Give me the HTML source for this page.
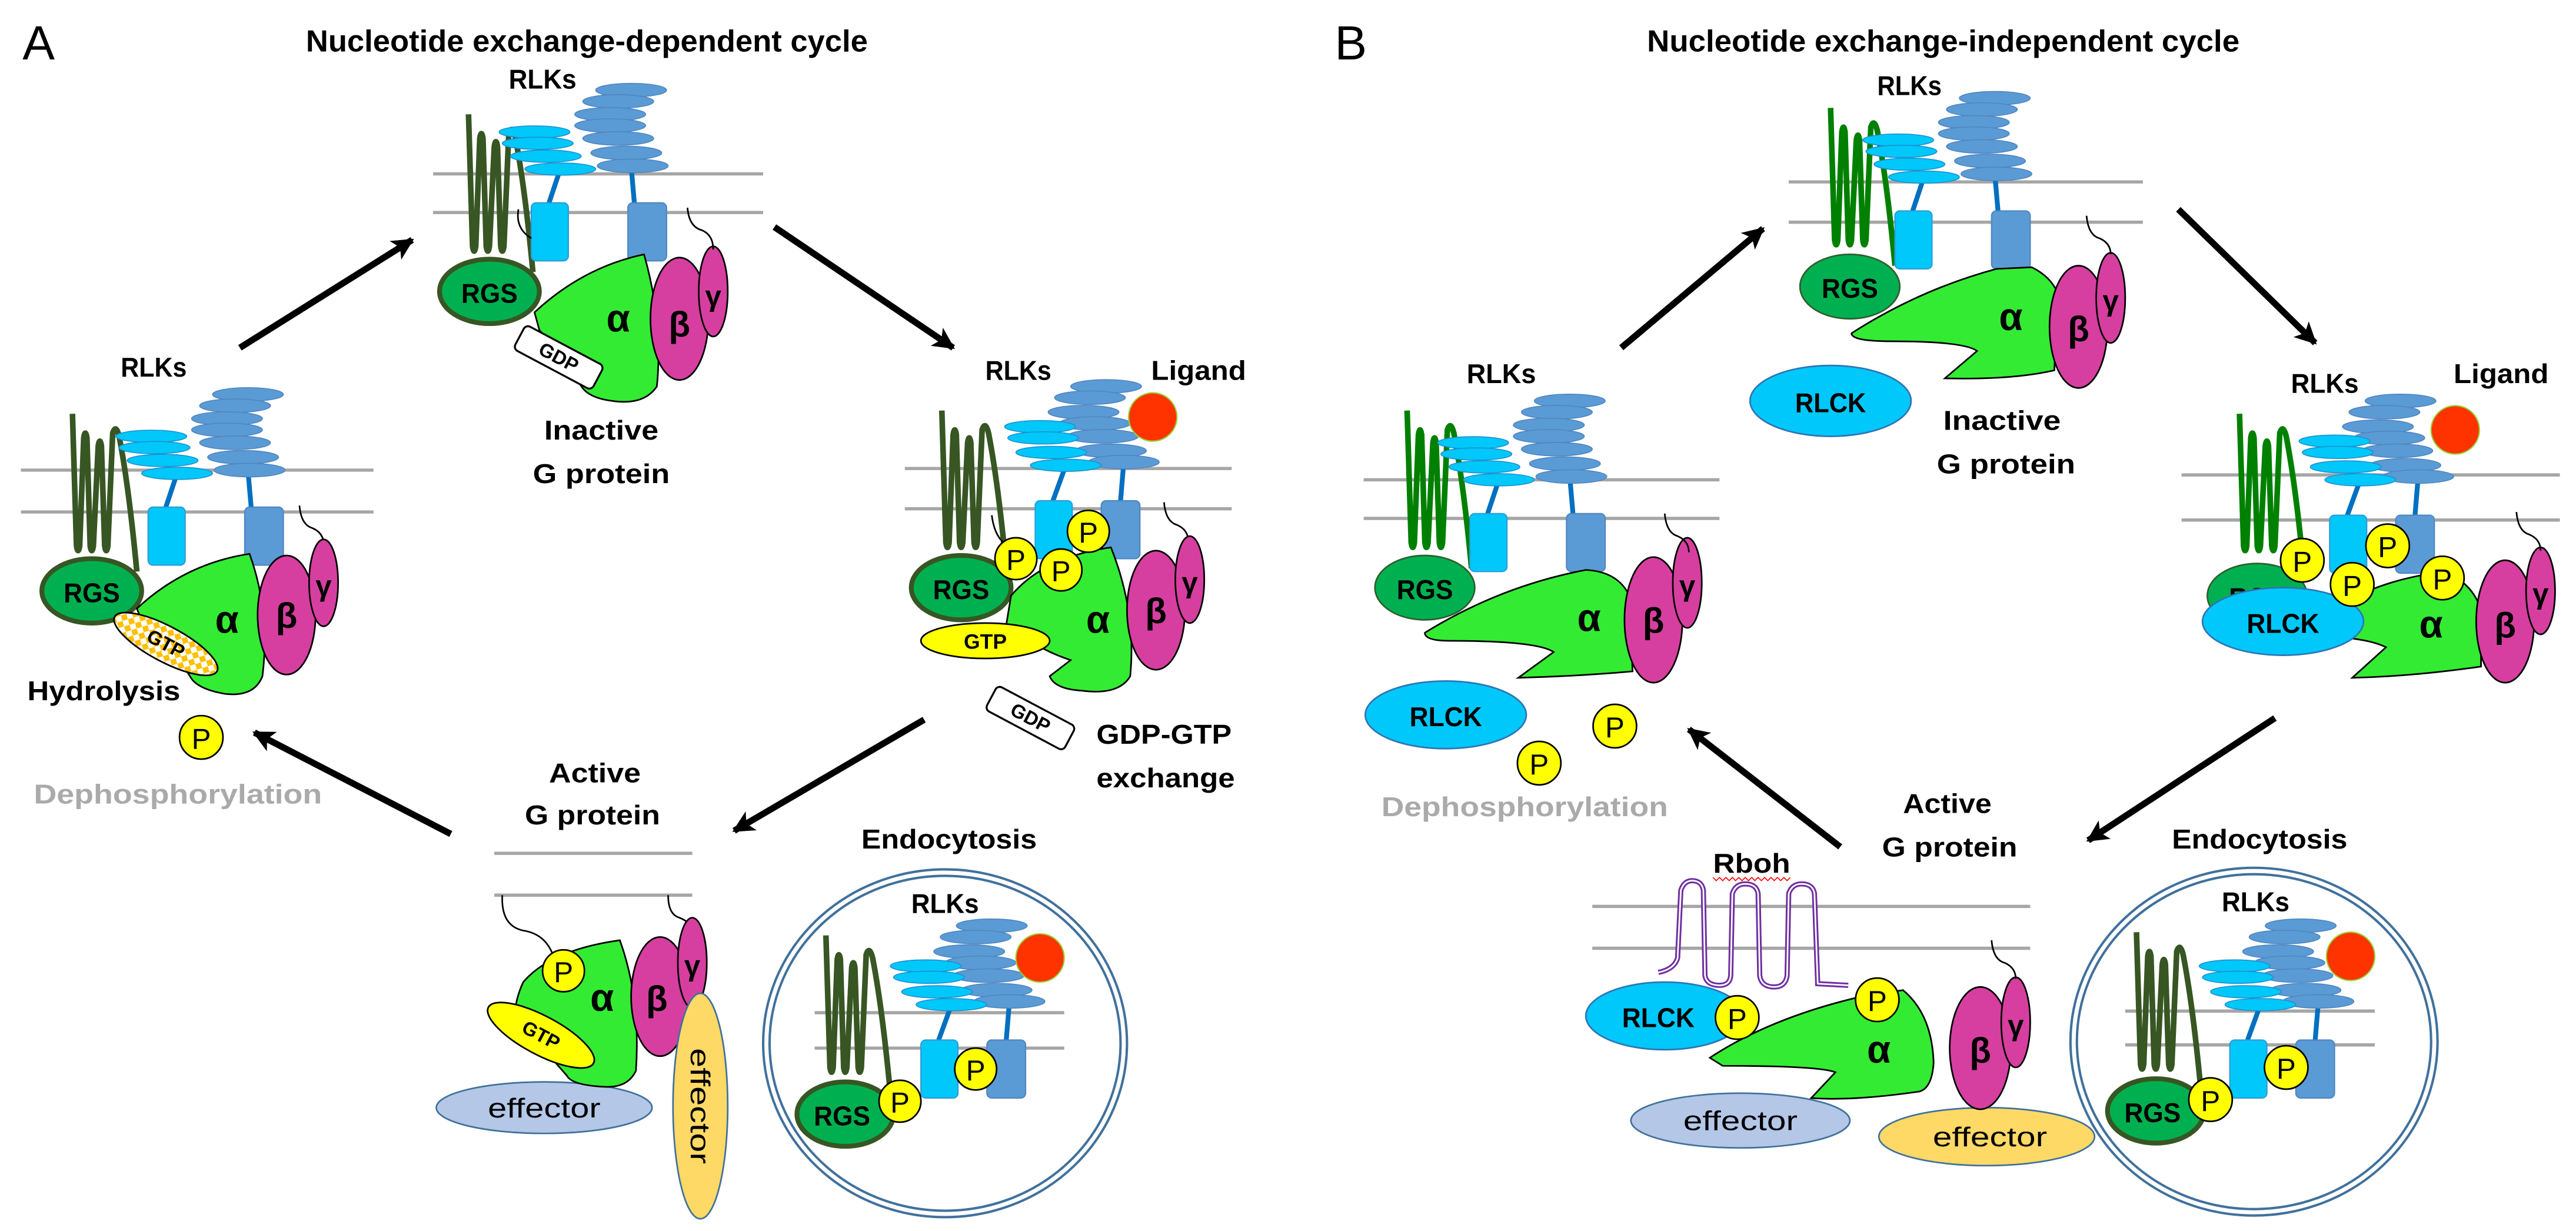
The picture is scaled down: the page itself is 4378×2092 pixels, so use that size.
<!DOCTYPE html>
<html><head><meta charset="utf-8"><style>
html,body{margin:0;padding:0;background:#fff;}
svg{display:block;}
text{font-family:"Liberation Sans",sans-serif;}
.b{font-weight:bold;}
</style></head><body>
<svg xmlns="http://www.w3.org/2000/svg" width="4378" height="2092" viewBox="0 0 1600 764.6" preserveAspectRatio="none">
<defs>
<marker id="ah" viewBox="0 0 10 10" refX="9" refY="5" markerWidth="3.6" markerHeight="3.4" orient="auto" markerUnits="strokeWidth"><path d="M0,0 L10,5 L0,10 L2.5,5 Z" fill="#000"/></marker>
<pattern id="chk" width="5" height="5" patternUnits="userSpaceOnUse"><rect width="5" height="5" fill="#fff"/><path d="M2.5,0 L5,2.5 L2.5,5 L0,2.5Z" fill="#FFC000"/></pattern>
<path id="sq" d="M0,0 L2.5,82 Q3.5,88 4.5,82 L7,15 Q8,9 9,15 L11,82 Q12,88 13,82 L16,20 Q17,14 18,20 L20,82 Q21,88 22,82 L25,12 Q27,6 29,14 Q35,45 40,98" fill="none" stroke-width="3.5" stroke-linejoin="round"/>
<g id="rec">
<line x1="18" y1="-21" x2="11" y2="0" stroke="#0070C0" stroke-width="3"/>
<line x1="62" y1="-23" x2="64" y2="0" stroke="#0070C0" stroke-width="3"/>
<g fill="#5B9BD5" stroke="#4F86C0" stroke-width="0.6">
<ellipse cx="62" cy="-70" rx="22" ry="4.2"/><ellipse cx="54" cy="-63" rx="22" ry="4.2"/><ellipse cx="49" cy="-55" rx="22" ry="4.2"/><ellipse cx="49" cy="-48" rx="22" ry="4.2"/><ellipse cx="54" cy="-40" rx="22" ry="4.2"/><ellipse cx="59" cy="-31" rx="22" ry="4.2"/><ellipse cx="63" cy="-23" rx="22" ry="4.2"/>
</g>
<g fill="#00C8FA" stroke="#1E90D0" stroke-width="0.6">
<ellipse cx="2" cy="-44" rx="22" ry="3.8"/><ellipse cx="4" cy="-37" rx="22" ry="3.8"/><ellipse cx="9" cy="-29" rx="22" ry="3.8"/><ellipse cx="18" cy="-21" rx="22" ry="3.8"/>
</g>
<rect x="0" y="0" width="23" height="36" rx="3" fill="#00C8FA" stroke="#2E9BD8" stroke-width="0.8"/>
<rect x="60" y="0" width="24" height="36" rx="3" fill="#5B9BD5" stroke="#4F86C0" stroke-width="0.8"/>
</g>
<g id="recn">
<line x1="19" y1="-22" x2="11" y2="0" stroke="#0070C0" stroke-width="3"/>
<line x1="55" y1="-24" x2="53" y2="0" stroke="#0070C0" stroke-width="3"/>
<g fill="#5B9BD5" stroke="#4F86C0" stroke-width="0.6">
<ellipse cx="44" cy="-71" rx="22" ry="4.2"/><ellipse cx="34" cy="-64" rx="22" ry="4.2"/><ellipse cx="30" cy="-55" rx="22" ry="4.2"/><ellipse cx="37" cy="-48" rx="22" ry="4.2"/><ellipse cx="42" cy="-40" rx="22" ry="4.2"/><ellipse cx="47" cy="-31" rx="22" ry="4.2"/><ellipse cx="55" cy="-24" rx="22" ry="4.2"/>
</g>
<g fill="#00C8FA" stroke="#1E90D0" stroke-width="0.6">
<ellipse cx="3" cy="-46" rx="22" ry="3.8"/><ellipse cx="5" cy="-39" rx="22" ry="3.8"/><ellipse cx="10" cy="-30" rx="22" ry="3.8"/><ellipse cx="19" cy="-22" rx="22" ry="3.8"/>
</g>
<rect x="0" y="0" width="23" height="36" rx="3" fill="#00C8FA" stroke="#2E9BD8" stroke-width="0.8"/>
<rect x="41" y="0" width="24" height="36" rx="3" fill="#5B9BD5" stroke="#4F86C0" stroke-width="0.8"/>
</g>
</defs>
<rect width="1600" height="764.6" fill="#fff"/>

<!-- ================= PANEL A ================= -->
<text x="14" y="37" font-size="30">A</text>
<text x="190" y="32" font-size="19" class="b" textLength="349" lengthAdjust="spacingAndGlyphs">Nucleotide exchange-dependent cycle</text>

<g stroke="#000" stroke-width="4" marker-end="url(#ah)">
<line x1="149" y1="216" x2="256" y2="149"/>
<line x1="481" y1="141" x2="592" y2="216"/>
<line x1="574" y1="447" x2="456" y2="516"/>
<line x1="280" y1="518" x2="158" y2="455"/>
</g>

<!-- Top A -->
<g stroke="#A6A6A6" stroke-width="2"><line x1="269" y1="108" x2="474" y2="108"/><line x1="269" y1="132" x2="474" y2="132"/></g>
<use href="#sq" x="291" y="71" stroke="#375623"/>
<use href="#rec" x="330" y="126"/>
<path d="M322,130 Q320,142 330,148" fill="none" stroke="#000" stroke-width="1"/>
<ellipse cx="304" cy="181" rx="31" ry="20" fill="#00B050" stroke="#375623" stroke-width="3"/>
<path d="M332,194 Q362,166 400,158 Q412,200 408,240 Q400,252 380,249 Q364,247 360,238 L350,222 L335,205 Z" fill="#33EB33" stroke="#000" stroke-width="1"/>
<rect x="319.5" y="213.5" width="55" height="17" rx="3" transform="rotate(28 347 222)" fill="#fff" stroke="#000" stroke-width="1.2"/>
<text x="347" y="226" font-size="12" class="b" text-anchor="middle" transform="rotate(28 347 222)">GDP</text>
<ellipse cx="422" cy="198" rx="18" ry="38" fill="#D63FA0" stroke="#000" stroke-width="1"/>
<ellipse cx="443" cy="181" rx="9" ry="28" fill="#D63FA0" stroke="#000" stroke-width="1"/>
<path d="M427,129 Q428,141 436,143 Q443,146 443,155" fill="none" stroke="#000" stroke-width="1"/>
<text x="304" y="188" font-size="17" class="b" text-anchor="middle" textLength="35" lengthAdjust="spacingAndGlyphs">RGS</text>
<text x="384" y="206" font-size="24" class="b" text-anchor="middle">α</text>
<text x="422" y="209" font-size="22" class="b" text-anchor="middle">β</text>
<text x="443" y="190" font-size="18" class="b" text-anchor="middle">γ</text>
<text x="316" y="55" font-size="17" class="b" textLength="42" lengthAdjust="spacingAndGlyphs">RLKs</text>
<text x="338" y="273" font-size="17" class="b" textLength="71" lengthAdjust="spacingAndGlyphs">Inactive</text>
<text x="331" y="300" font-size="17" class="b" textLength="85" lengthAdjust="spacingAndGlyphs">G protein</text>

<!-- Left A -->
<g stroke="#A6A6A6" stroke-width="2"><line x1="13" y1="292" x2="232" y2="292"/><line x1="13" y1="318" x2="232" y2="318"/></g>
<use href="#sq" x="45" y="257" stroke="#375623"/>
<use href="#rec" x="92" y="315"/>
<path d="M186,314 Q187,326 194,328 Q201,331 201,338" fill="none" stroke="#000" stroke-width="1"/>
<ellipse cx="57" cy="367" rx="31" ry="20" fill="#00B050" stroke="#375623" stroke-width="3"/>
<path d="M85,378 Q115,350 155,344 Q168,380 163,420 Q158,433 140,431 Q122,428 118,420 L110,408 L92,395 Z" fill="#33EB33" stroke="#000" stroke-width="1"/>
<ellipse cx="103" cy="400" rx="36" ry="11" transform="rotate(28 103 400)" fill="url(#chk)" stroke="#000" stroke-width="1"/>
<text x="103" y="404" font-size="12" class="b" text-anchor="middle" transform="rotate(28 103 400)">GTP</text>
<ellipse cx="178" cy="382" rx="18" ry="37" fill="#D63FA0" stroke="#000" stroke-width="1"/>
<ellipse cx="201" cy="362" rx="9" ry="27" fill="#D63FA0" stroke="#000" stroke-width="1"/>
<text x="57" y="374" font-size="17" class="b" text-anchor="middle" textLength="35" lengthAdjust="spacingAndGlyphs">RGS</text>
<text x="141" y="393" font-size="24" class="b" text-anchor="middle">α</text>
<text x="178" y="390" font-size="22" class="b" text-anchor="middle">β</text>
<text x="201" y="370" font-size="18" class="b" text-anchor="middle">γ</text>
<text x="75" y="234" font-size="17" class="b" textLength="41" lengthAdjust="spacingAndGlyphs">RLKs</text>
<text x="17" y="435" font-size="17" class="b" textLength="95" lengthAdjust="spacingAndGlyphs">Hydrolysis</text>
<circle cx="125" cy="458" r="13.5" fill="#FFFF00" stroke="#000" stroke-width="1"/>
<text x="125" y="465" font-size="18" text-anchor="middle">P</text>
<text x="21" y="499" font-size="17" class="b" fill="#AAAAAA" textLength="179" lengthAdjust="spacingAndGlyphs">Dephosphorylation</text>

<!-- Right A -->
<g stroke="#A6A6A6" stroke-width="2"><line x1="562" y1="291" x2="765" y2="291"/><line x1="562" y1="316" x2="765" y2="316"/></g>
<use href="#sq" x="585" y="255" stroke="#375623"/>
<use href="#recn" x="643" y="311"/>
<ellipse cx="716" cy="259" rx="15" ry="15" fill="#FF3300" stroke="#9ACD32" stroke-width="0.8"/>
<path d="M723,312 Q724,324 731,326 Q738,329 738,336" fill="none" stroke="#000" stroke-width="1"/>
<path d="M616,320 Q618,336 628,340" fill="none" stroke="#000" stroke-width="1"/>
<ellipse cx="597" cy="365" rx="31" ry="20" fill="#00B050" stroke="#375623" stroke-width="3"/>
<path d="M628,370 Q648,346 690,340 Q706,380 702,420 Q695,432 672,429 Q655,428 652,420 L665,410 Q650,405 640,398 L625,388 Z" fill="#33EB33" stroke="#000" stroke-width="1"/>
<ellipse cx="612" cy="398" rx="40" ry="11" fill="#FFFF00" stroke="#000" stroke-width="1"/>
<text x="612" y="403" font-size="13" class="b" text-anchor="middle">GTP</text>
<rect x="612.5" y="437.5" width="55" height="17" rx="3" transform="rotate(28 640 446)" fill="#fff" stroke="#000" stroke-width="1.2"/>
<text x="640" y="450" font-size="12" class="b" text-anchor="middle" transform="rotate(28 640 446)">GDP</text>
<ellipse cx="718" cy="379" rx="18" ry="37" fill="#D63FA0" stroke="#000" stroke-width="1"/>
<ellipse cx="739" cy="360" rx="9" ry="27" fill="#D63FA0" stroke="#000" stroke-width="1"/>
<text x="597" y="372" font-size="17" class="b" text-anchor="middle" textLength="35" lengthAdjust="spacingAndGlyphs">RGS</text>
<text x="682" y="393" font-size="24" class="b" text-anchor="middle">α</text>
<text x="718" y="387" font-size="22" class="b" text-anchor="middle">β</text>
<text x="739" y="368" font-size="18" class="b" text-anchor="middle">γ</text>
<g fill="#FFFF00" stroke="#000" stroke-width="1"><circle cx="631" cy="347" r="13"/><circle cx="676" cy="330" r="13"/><circle cx="659" cy="354" r="13"/></g>
<g font-size="18" text-anchor="middle"><text x="631" y="354">P</text><text x="676" y="337">P</text><text x="659" y="361">P</text></g>
<text x="612" y="236" font-size="17" class="b" textLength="41" lengthAdjust="spacingAndGlyphs">RLKs</text>
<text x="715" y="236" font-size="17" class="b" textLength="59" lengthAdjust="spacingAndGlyphs">Ligand</text>
<text x="681" y="462" font-size="17" class="b" textLength="84" lengthAdjust="spacingAndGlyphs">GDP-GTP</text>
<text x="681" y="489" font-size="17" class="b" textLength="86" lengthAdjust="spacingAndGlyphs">exchange</text>

<!-- Bottom A -->
<text x="341" y="486" font-size="17" class="b" textLength="57" lengthAdjust="spacingAndGlyphs">Active</text>
<text x="326" y="512" font-size="17" class="b" textLength="84" lengthAdjust="spacingAndGlyphs">G protein</text>
<g stroke="#A6A6A6" stroke-width="2"><line x1="307" y1="530" x2="430" y2="530"/><line x1="307" y1="556" x2="430" y2="556"/></g>
<path d="M312,556 Q311,575 325,578 Q338,580 343,592" fill="none" stroke="#000" stroke-width="1"/>
<path d="M415,556 Q415,568 422,570 Q430,573 430,580" fill="none" stroke="#000" stroke-width="1"/>
<ellipse cx="338" cy="688" rx="67" ry="16" fill="#B4C7E7" stroke="#41719C" stroke-width="1"/>
<path d="M325,610 Q342,590 385,584 Q398,620 395,665 Q390,676 375,675 Q355,674 352,668 L345,660 L320,640 Q318,625 325,610Z" fill="#33EB33" stroke="#000" stroke-width="1"/>
<ellipse cx="336" cy="643" rx="37" ry="12" transform="rotate(28 336 643)" fill="#FFFF00" stroke="#000" stroke-width="1"/>
<text x="336" y="647" font-size="12" class="b" text-anchor="middle" transform="rotate(28 336 643)">GTP</text>
<ellipse cx="410" cy="619" rx="18" ry="37" fill="#D63FA0" stroke="#000" stroke-width="1"/>
<ellipse cx="430" cy="598" rx="9" ry="28" fill="#D63FA0" stroke="#000" stroke-width="1"/>
<ellipse cx="435" cy="687" rx="17" ry="70" fill="#FFD966" stroke="#41719C" stroke-width="1"/>
<circle cx="350" cy="603" r="13" fill="#FFFF00" stroke="#000" stroke-width="1"/>
<text x="350" y="610" font-size="18" text-anchor="middle">P</text>
<text x="374" y="628" font-size="24" class="b" text-anchor="middle">α</text>
<text x="408" y="628" font-size="22" class="b" text-anchor="middle">β</text>
<text x="430" y="606" font-size="18" class="b" text-anchor="middle">γ</text>
<text x="338" y="694" font-size="17" text-anchor="middle" textLength="70" lengthAdjust="spacingAndGlyphs">effector</text>
<text x="435" y="687" font-size="17" text-anchor="middle" textLength="72" lengthAdjust="spacingAndGlyphs" transform="rotate(90 435 687) translate(0 6)">effector</text>

<!-- Endocytosis A -->
<text x="535" y="527" font-size="17" class="b" textLength="109" lengthAdjust="spacingAndGlyphs">Endocytosis</text>
<ellipse cx="587" cy="648" rx="113" ry="108" fill="none" stroke="#41719C" stroke-width="1.5"/>
<ellipse cx="587" cy="648" rx="109" ry="104" fill="none" stroke="#41719C" stroke-width="1.5"/>
<text x="566" y="567" font-size="17" class="b" textLength="42" lengthAdjust="spacingAndGlyphs">RLKs</text>
<g stroke="#A6A6A6" stroke-width="2"><line x1="506" y1="629" x2="661" y2="629"/><line x1="506" y1="651" x2="661" y2="651"/></g>
<use href="#sq" x="513" y="581" stroke="#375623"/>
<use href="#recn" x="572" y="646"/>
<ellipse cx="646" cy="595" rx="15" ry="15" fill="#FF3300" stroke="#9ACD32" stroke-width="0.8"/>
<ellipse cx="525" cy="692" rx="30" ry="20" fill="#00B050" stroke="#375623" stroke-width="3"/>
<text x="523" y="699" font-size="17" class="b" text-anchor="middle" textLength="35" lengthAdjust="spacingAndGlyphs">RGS</text>
<g fill="#FFFF00" stroke="#000" stroke-width="1"><circle cx="606" cy="664" r="13"/><circle cx="559" cy="684" r="13"/></g>
<g font-size="18" text-anchor="middle"><text x="606" y="671">P</text><text x="559" y="691">P</text></g>

<!-- ================= PANEL B ================= -->
<text x="829" y="37" font-size="30">B</text>
<text x="1023" y="32" font-size="19" class="b" textLength="368" lengthAdjust="spacingAndGlyphs">Nucleotide exchange-independent cycle</text>

<g stroke="#000" stroke-width="4" marker-end="url(#ah)">
<line x1="1007" y1="216" x2="1095" y2="142"/>
<line x1="1353" y1="130" x2="1438" y2="213"/>
<line x1="1413" y1="446" x2="1297" y2="522"/>
<line x1="1143" y1="526" x2="1049" y2="453"/>
</g>

<!-- Top B -->
<g stroke="#A6A6A6" stroke-width="2"><line x1="1111" y1="113" x2="1331" y2="113"/><line x1="1111" y1="138" x2="1331" y2="138"/></g>
<use href="#sq" x="1137" y="67" stroke="#008000"/>
<use href="#rec" x="1177" y="131"/>
<ellipse cx="1149" cy="178" rx="31" ry="20" fill="#00B050" stroke="#2E5E2E" stroke-width="1"/>
<path d="M1150,207 Q1192,180 1240,167 L1262,166 Q1274,172 1278,182 L1276,230 Q1250,236 1208,235 L1228,218 Q1220,212 1175,212 Q1150,212 1150,207Z" fill="#33EB33" stroke="#000" stroke-width="1"/>
<ellipse cx="1291" cy="203" rx="18" ry="38" fill="#D63FA0" stroke="#000" stroke-width="1"/>
<ellipse cx="1311" cy="185" rx="9" ry="28" fill="#D63FA0" stroke="#000" stroke-width="1"/>
<path d="M1296,134 Q1297,146 1304,148 Q1311,151 1311,158" fill="none" stroke="#000" stroke-width="1"/>
<text x="1149" y="185" font-size="17" class="b" text-anchor="middle" textLength="35" lengthAdjust="spacingAndGlyphs">RGS</text>
<text x="1249" y="205" font-size="24" class="b" text-anchor="middle">α</text>
<text x="1291" y="212" font-size="22" class="b" text-anchor="middle">β</text>
<text x="1311" y="193" font-size="18" class="b" text-anchor="middle">γ</text>
<ellipse cx="1137" cy="249" rx="50" ry="22" fill="#00C8FA" stroke="#2E75B6" stroke-width="1"/>
<text x="1137" y="256" font-size="17" class="b" text-anchor="middle" textLength="44" lengthAdjust="spacingAndGlyphs">RLCK</text>
<text x="1166" y="59" font-size="17" class="b" textLength="40" lengthAdjust="spacingAndGlyphs">RLKs</text>
<text x="1207" y="267" font-size="17" class="b" textLength="73" lengthAdjust="spacingAndGlyphs">Inactive</text>
<text x="1203" y="294" font-size="17" class="b" textLength="86" lengthAdjust="spacingAndGlyphs">G protein</text>

<!-- Left B -->
<g stroke="#A6A6A6" stroke-width="2"><line x1="847" y1="298" x2="1068" y2="298"/><line x1="847" y1="322" x2="1068" y2="322"/></g>
<use href="#sq" x="874" y="255" stroke="#008000"/>
<use href="#rec" x="913" y="319"/>
<ellipse cx="885" cy="365" rx="31" ry="20" fill="#00B050" stroke="#2E5E2E" stroke-width="1"/>
<path d="M885,393 Q932,364 985,354 Q1005,355 1012,370 L1014,417 Q980,420 943,421 L965,405 Q955,398 900,398 Q885,398 885,393Z" fill="#33EB33" stroke="#000" stroke-width="1"/>
<ellipse cx="1027" cy="385" rx="18" ry="39" fill="#D63FA0" stroke="#000" stroke-width="1"/>
<ellipse cx="1048" cy="362" rx="9" ry="28" fill="#D63FA0" stroke="#000" stroke-width="1"/>
<path d="M1034,319 Q1035,331 1042,333 Q1049,336 1049,343" fill="none" stroke="#000" stroke-width="1"/>
<text x="885" y="372" font-size="17" class="b" text-anchor="middle" textLength="35" lengthAdjust="spacingAndGlyphs">RGS</text>
<text x="987" y="392" font-size="24" class="b" text-anchor="middle">α</text>
<text x="1027" y="393" font-size="22" class="b" text-anchor="middle">β</text>
<text x="1048" y="370" font-size="18" class="b" text-anchor="middle">γ</text>
<text x="911" y="238" font-size="17" class="b" textLength="43" lengthAdjust="spacingAndGlyphs">RLKs</text>
<ellipse cx="898" cy="444" rx="50" ry="21" fill="#00C8FA" stroke="#2E75B6" stroke-width="1"/>
<text x="898" y="451" font-size="17" class="b" text-anchor="middle" textLength="45" lengthAdjust="spacingAndGlyphs">RLCK</text>
<g fill="#FFFF00" stroke="#000" stroke-width="1"><circle cx="1003" cy="451" r="13.5"/><circle cx="956" cy="474" r="13.5"/></g>
<g font-size="18" text-anchor="middle"><text x="1003" y="458">P</text><text x="956" y="481">P</text></g>
<text x="858" y="507" font-size="17" class="b" fill="#AAAAAA" textLength="178" lengthAdjust="spacingAndGlyphs">Dephosphorylation</text>

<!-- Right B -->
<g stroke="#A6A6A6" stroke-width="2"><line x1="1355" y1="295" x2="1590" y2="295"/><line x1="1355" y1="323" x2="1590" y2="323"/></g>
<use href="#sq" x="1391" y="257" stroke="#008000"/>
<use href="#recn" x="1447" y="320"/>
<ellipse cx="1525" cy="267" rx="15" ry="15" fill="#FF3300" stroke="#9ACD32" stroke-width="0.8"/>
<ellipse cx="1402" cy="370" rx="31" ry="20" fill="#00B050" stroke="#2E5E2E" stroke-width="1"/>
<text x="1402" y="377" font-size="17" class="b" text-anchor="middle" textLength="35" lengthAdjust="spacingAndGlyphs">RGS</text>
<path d="M1440,385 Q1472,360 1520,355 Q1538,365 1541,380 L1541,414 Q1500,420 1461,421 L1482,402 Q1470,396 1440,395Z" fill="#33EB33" stroke="#000" stroke-width="1"/>
<ellipse cx="1418" cy="386" rx="50" ry="21" fill="#00C8FA" stroke="#2E75B6" stroke-width="1"/>
<text x="1418" y="393" font-size="17" class="b" text-anchor="middle" textLength="45" lengthAdjust="spacingAndGlyphs">RLCK</text>
<ellipse cx="1556" cy="386" rx="18" ry="38" fill="#D63FA0" stroke="#000" stroke-width="1"/>
<ellipse cx="1578" cy="367" rx="9" ry="27" fill="#D63FA0" stroke="#000" stroke-width="1"/>
<path d="M1563,318 Q1564,330 1571,332 Q1578,335 1578,342" fill="none" stroke="#000" stroke-width="1"/>
<text x="1510" y="396" font-size="24" class="b" text-anchor="middle">α</text>
<text x="1556" y="396" font-size="22" class="b" text-anchor="middle">β</text>
<text x="1578" y="375" font-size="18" class="b" text-anchor="middle">γ</text>
<g fill="#FFFF00" stroke="#000" stroke-width="1"><circle cx="1430" cy="348" r="13.5"/><circle cx="1483" cy="339" r="13.5"/><circle cx="1461" cy="363" r="13.5"/><circle cx="1517" cy="359" r="13.5"/></g>
<g font-size="18" text-anchor="middle"><text x="1430" y="355">P</text><text x="1483" y="346">P</text><text x="1461" y="370">P</text><text x="1517" y="366">P</text></g>
<text x="1423" y="244" font-size="17" class="b" textLength="42" lengthAdjust="spacingAndGlyphs">RLKs</text>
<text x="1524" y="238" font-size="17" class="b" textLength="59" lengthAdjust="spacingAndGlyphs">Ligand</text>

<!-- Bottom B -->
<text x="1182" y="505" font-size="17" class="b" textLength="55" lengthAdjust="spacingAndGlyphs">Active</text>
<text x="1169" y="532" font-size="17" class="b" textLength="84" lengthAdjust="spacingAndGlyphs">G protein</text>
<text x="1064" y="542" font-size="17" class="b" textLength="48" lengthAdjust="spacingAndGlyphs">Rboh</text>
<polyline points="1064,545 1066,547 1068,545 1070,547 1072,545 1074,547 1076,545 1078,547 1080,545 1082,547 1084,545 1086,547 1088,545 1090,547 1092,545 1094,547 1096,545 1098,547 1100,545 1102,547 1104,545 1106,547 1108,545 1110,547 1112,545" fill="none" stroke="#FF0000" stroke-width="0.6"/>
<g stroke="#A6A6A6" stroke-width="2"><line x1="989" y1="563" x2="1261" y2="563"/><line x1="989" y1="589" x2="1261" y2="589"/></g>
<path d="M1030,604 Q1040,602 1042,595 L1044,553 Q1046,547 1051,547 Q1057,547 1058,553 L1059,606 Q1060,612 1068,612 Q1075,612 1075,605 L1076,555 Q1078,549 1084,549 Q1091,549 1092,555 L1093,606 Q1094,613 1102,613 Q1109,613 1110,606 L1111,555 Q1113,549 1119,549 Q1126,549 1127,555 L1129,611 L1148,612" fill="none" stroke="#7030A0" stroke-width="3.2"/>
<path d="M1030,604 Q1040,602 1042,595 L1044,553 Q1046,547 1051,547 Q1057,547 1058,553 L1059,606 Q1060,612 1068,612 Q1075,612 1075,605 L1076,555 Q1078,549 1084,549 Q1091,549 1092,555 L1093,606 Q1094,613 1102,613 Q1109,613 1110,606 L1111,555 Q1113,549 1119,549 Q1126,549 1127,555 L1129,611 L1148,612" fill="none" stroke="#fff" stroke-width="1"/>
<ellipse cx="1081" cy="696" rx="68" ry="17" fill="#B4C7E7" stroke="#41719C" stroke-width="1"/>
<ellipse cx="1234" cy="706" rx="67" ry="18" fill="#FFD966" stroke="#41719C" stroke-width="1"/>
<ellipse cx="1034" cy="631" rx="49" ry="21" fill="#00C8FA" stroke="#2E75B6" stroke-width="1"/>
<path d="M1062,657 Q1100,632 1156,619 L1182,615 Q1200,630 1201,660 Q1200,676 1192,678 Q1150,684 1125,682 L1140,666 Q1130,662 1070,662Z" fill="#33EB33" stroke="#000" stroke-width="1"/>
<ellipse cx="1230" cy="651" rx="19" ry="38" fill="#D63FA0" stroke="#000" stroke-width="1"/>
<ellipse cx="1252" cy="635" rx="9" ry="28" fill="#D63FA0" stroke="#000" stroke-width="1"/>
<path d="M1237,584 Q1238,596 1245,598 Q1252,601 1252,608" fill="none" stroke="#000" stroke-width="1"/>
<text x="1030" y="638" font-size="17" class="b" text-anchor="middle" textLength="45" lengthAdjust="spacingAndGlyphs">RLCK</text>
<g fill="#FFFF00" stroke="#000" stroke-width="1"><circle cx="1079" cy="632" r="13.5"/><circle cx="1166" cy="621" r="13.5"/></g>
<g font-size="18" text-anchor="middle"><text x="1079" y="639">P</text><text x="1166" y="628">P</text></g>
<text x="1167" y="660" font-size="24" class="b" text-anchor="middle">α</text>
<text x="1230" y="660" font-size="22" class="b" text-anchor="middle">β</text>
<text x="1252" y="643" font-size="18" class="b" text-anchor="middle">γ</text>
<text x="1081" y="702" font-size="17" text-anchor="middle" textLength="71" lengthAdjust="spacingAndGlyphs">effector</text>
<text x="1236" y="712" font-size="17" text-anchor="middle" textLength="71" lengthAdjust="spacingAndGlyphs">effector</text>

<!-- Endocytosis B -->
<text x="1349" y="527" font-size="17" class="b" textLength="109" lengthAdjust="spacingAndGlyphs">Endocytosis</text>
<ellipse cx="1400" cy="647" rx="114" ry="108" fill="none" stroke="#41719C" stroke-width="1.5"/>
<ellipse cx="1400" cy="647" rx="110" ry="104" fill="none" stroke="#41719C" stroke-width="1.5"/>
<text x="1380" y="566" font-size="17" class="b" textLength="42" lengthAdjust="spacingAndGlyphs">RLKs</text>
<g stroke="#A6A6A6" stroke-width="2"><line x1="1320" y1="628" x2="1475" y2="628"/><line x1="1320" y1="649" x2="1475" y2="649"/></g>
<use href="#sq" x="1327" y="579" stroke="#375623"/>
<use href="#recn" x="1385" y="646"/>
<ellipse cx="1460" cy="594" rx="15" ry="15" fill="#FF3300" stroke="#9ACD32" stroke-width="0.8"/>
<ellipse cx="1339" cy="690" rx="30" ry="20" fill="#00B050" stroke="#375623" stroke-width="3"/>
<text x="1337" y="697" font-size="17" class="b" text-anchor="middle" textLength="35" lengthAdjust="spacingAndGlyphs">RGS</text>
<g fill="#FFFF00" stroke="#000" stroke-width="1"><circle cx="1420" cy="663" r="13.5"/><circle cx="1373" cy="683" r="13.5"/></g>
<g font-size="18" text-anchor="middle"><text x="1420" y="670">P</text><text x="1373" y="690">P</text></g>
</svg>
</body></html>
